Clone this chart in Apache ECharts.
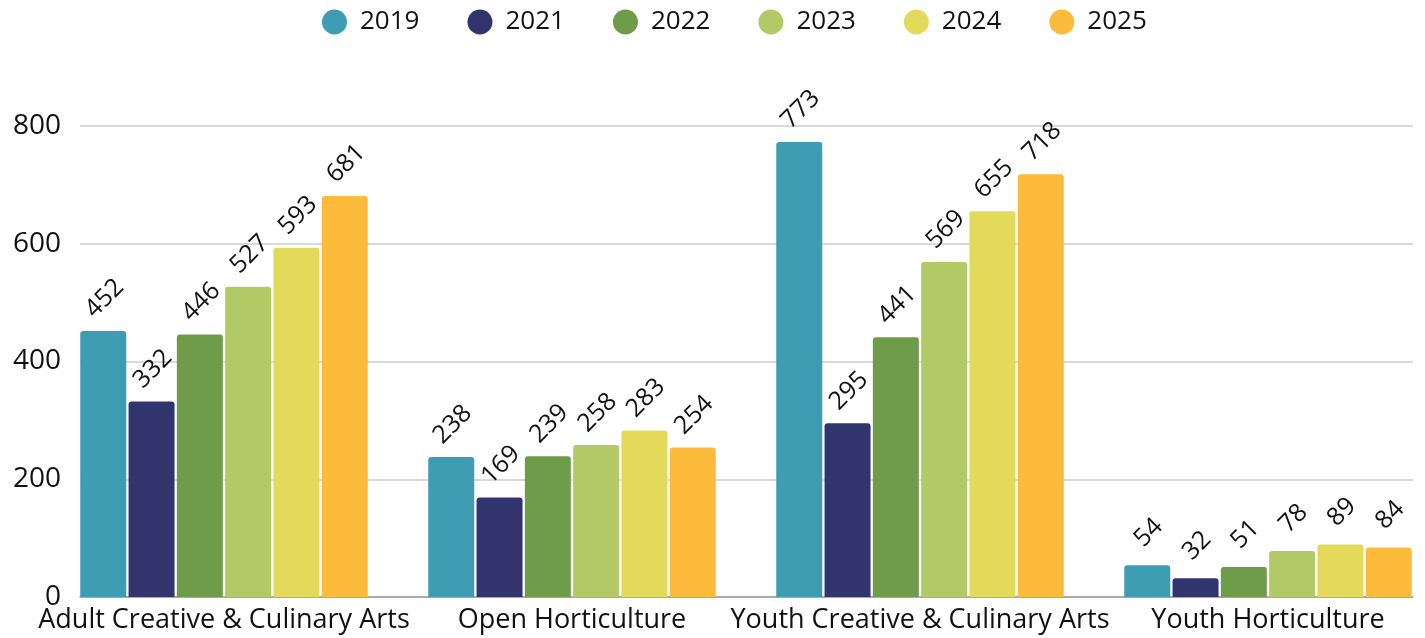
<!DOCTYPE html>
<html>
<head>
<meta charset="utf-8">
<script src="https://cdn.jsdelivr.net/npm/echarts@6/dist/echarts.min.js"></script>
<style>html,body{margin:0;padding:0;background:#fff;}#c{width:1425px;height:638px;}</style>
</head>
<body>
<div id="c"></div>
<script>
var categories = ['Adult Creative & Culinary Arts', 'Open Horticulture', 'Youth Creative & Culinary Arts', 'Youth Horticulture'];
var years = ['2019', '2021', '2022', '2023', '2024', '2025'];
var v2019 = [452, 238, 773, 54];
var v2021 = [332, 169, 295, 32];
var v2022 = [446, 239, 441, 51];
var v2023 = [527, 258, 569, 78];
var v2024 = [593, 283, 655, 89];
var v2025 = [681, 254, 718, 84];
var yTicks = [0, 200, 400, 600, 800];

var seriesValues = [v2019, v2021, v2022, v2023, v2024, v2025];
var colors = ['#3E9DB3', '#31346D', '#6F9C48', '#B2CA65', '#E3D95B', '#FDBB3C'];
var FONT = 'Open Sans';

// category positions on a numeric x axis (index of category)
var catIdx = categories.map(function (c, i) { return i; });
var xMin = -0.41379, xMax = 3.41667;

var series = years.map(function (y, i) {
  return {
    name: y,
    type: 'bar',
    data: catIdx.map(function (ci) { return [ci, seriesValues[i][ci]]; }),
    barWidth: 46,
    barGap: '5%',
    itemStyle: { color: colors[i], borderRadius: [3, 3, 0, 0] },
    label: {
      show: true,
      position: 'top',
      rotate: 45,
      align: 'center',
      verticalAlign: 'middle',
      distance: 31,
      offset: [2, 0],
      fontFamily: FONT,
      fontSize: 25,
      color: '#111',
      formatter: function (p) { return p.value[1]; }
    }
  };
});

var chart = echarts.init(document.getElementById('c'));
chart.setOption({
  backgroundColor: '#fff',
  animation: false,
  color: colors,
  legend: {
    data: years,
    left: 322,
    top: 9,
    icon: 'circle',
    itemWidth: 25,
    itemHeight: 25,
    itemGap: 48,
    padding: 0,
    textStyle: { fontFamily: FONT, fontSize: 26, color: '#111', padding: [0, 0, 0, 8] }
  },
  grid: { left: 80, right: 12, top: 126, bottom: 41 },
  xAxis: {
    type: 'value', min: xMin, max: xMax,
    axisLine: { show: true, onZero: false, lineStyle: { color: '#999', width: 1.5 } },
    axisTick: { show: false },
    splitLine: { show: false },
    axisLabel: {
      customValues: catIdx,
      formatter: function (v) { return categories[Math.round(v)]; },
      fontFamily: FONT, fontSize: 27, color: '#111', margin: 10
    }
  },
  yAxis: {
    type: 'value', min: yTicks[0], max: yTicks[yTicks.length - 1], interval: 200,
    axisLine: { show: false }, axisTick: { show: false },
    axisLabel: { fontFamily: FONT, fontSize: 28, color: '#111', margin: 19 },
    splitLine: { show: true, lineStyle: { color: '#cccccc', width: 1.5 } }
  },
  series: series
});
</script>
</body>
</html>
